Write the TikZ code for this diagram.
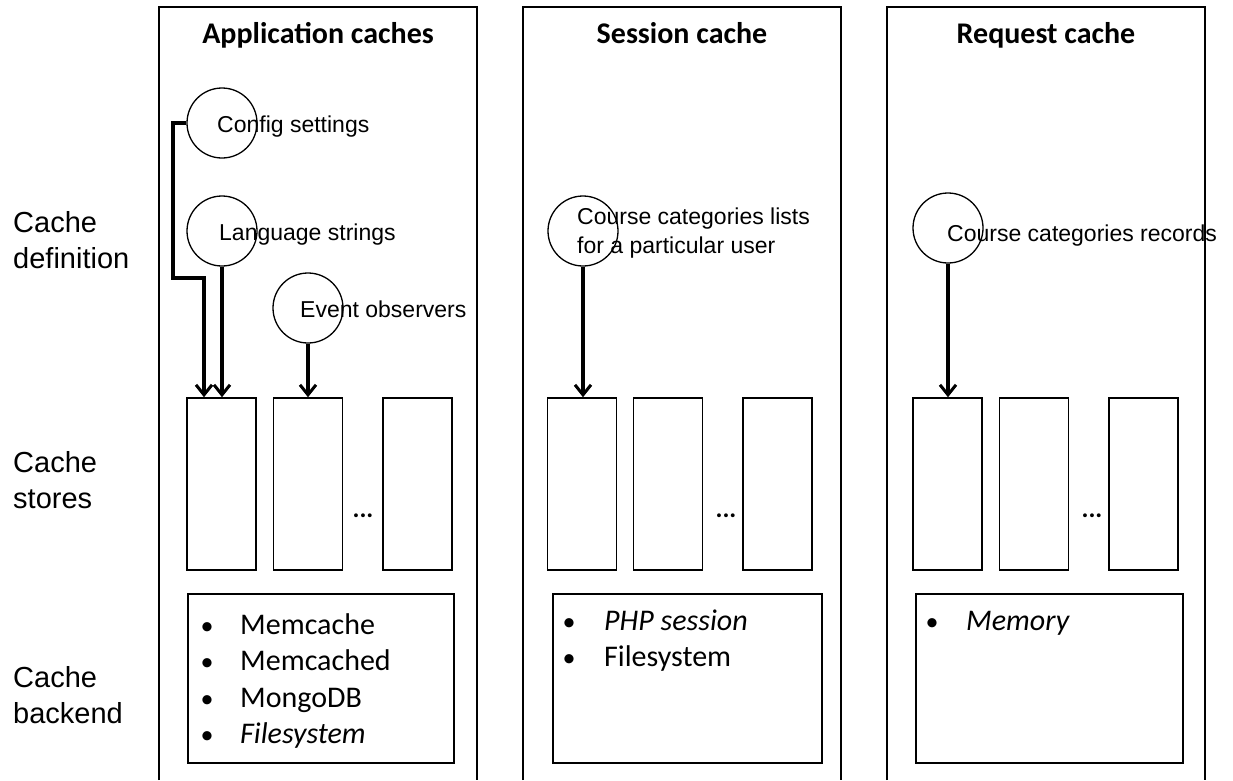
\documentclass[tikz,border=0pt]{standalone}
\usepackage{fontspec}
\setmainfont{Liberation Sans}
\newfontfamily\calfont{Carlito}
\usetikzlibrary{arrows.meta}
\begin{document}
\begin{tikzpicture}[x=1pt,y=-1pt,
  frame/.style={draw, line width=1.4pt},
  store/.style={draw, line width=1.6pt, minimum width=69pt, minimum height=172pt, inner sep=0pt},
  defc/.style={draw, circle, line width=1.3pt, minimum size=70pt, inner sep=0pt},
  lbl/.style={anchor=base west, inner sep=0pt, font=\fontsize{23}{28}\selectfont},
  side/.style={anchor=base west, inner sep=0pt, font=\fontsize{29}{35}\selectfont},
  title/.style={anchor=base, inner sep=0pt, font=\calfont\bfseries\fontsize{30}{36}\selectfont},
  item/.style={anchor=base west, inner sep=0pt, font=\calfont\fontsize{30}{36}\selectfont},
  bul/.style={anchor=base, inner sep=0pt, font=\calfont\fontsize{26}{32}\selectfont},
  dots/.style={anchor=base, inner sep=0pt, font=\calfont\bfseries\fontsize{26}{26}\selectfont},
  back/.style={draw, line width=1.5pt, minimum height=169pt, inner sep=0pt},
  arr/.style={line width=3.2pt, -{Straight Barb[length=10pt,width=16pt,line width=3pt]}}]
\useasboundingbox (0,0) rectangle (1233,780);
\fill[white] (0,0) rectangle (1233,780);

% column frames (cut off at the bottom)
\draw[frame] (159,780) -- (159,7) -- (477,7) -- (477,780);
\draw[frame] (523,780) -- (523,7) -- (841,7) -- (841,780);
\draw[frame] (887,780) -- (887,7) -- (1205,7) -- (1205,780);

% titles
\node[title] (t1) at (318,43) {Application caches};
\node[title] (t2) at (682,43) {Session cache};
\node[title] (t3) at (1046,43) {Request cache};

% side labels
\node[side] (l1a) at (13,232) {Cache};
\node[side] (l1b) at (13,268) {definition};
\node[side] (l2a) at (13,472) {Cache};
\node[side] (l2b) at (13,508) {stores};
\node[side] (l3a) at (13,687) {Cache};
\node[side] (l3b) at (13,723) {backend};

% cache definitions
\node[defc] (cfg) at (222,123) {};
\node[lbl] (cfgt) at (217,132) {Config settings};
\node[defc] (lang) at (222,231) {};
\node[lbl] (langt) at (219,240) {Language strings};
\node[defc] (ev) at (308,308) {};
\node[lbl] (evt) at (300,317) {Event observers};
\node[defc] (ccl) at (583,231) {};
\node[lbl] (cclt1) at (577,224) {Course categories lists};
\node[lbl] (cclt2) at (577,253) {for a particular user};
\node[defc] (ccr) at (948,228) {};
\node[lbl] (ccrt) at (947,241) {Course categories records};

% cache stores
\node[store] (s11) at (221.5,484) {};
\node[store] (s12) at (308,484) {};
\node[store] (s13) at (417.5,484) {};
\node[dots] (d1) at (363,517) {...};
\node[store] (s21) at (582,484) {};
\node[store] (s22) at (668,484) {};
\node[store] (s23) at (777.5,484) {};
\node[dots] (d2) at (726,517) {...};
\node[store] (s31) at (947.5,484) {};
\node[store] (s32) at (1034,484) {};
\node[store] (s33) at (1143.5,484) {};
\node[dots] (d3) at (1092,517) {...};

% connectors
\coordinate (k1) at (173,278);
\coordinate (k2) at (204,278);
\draw[arr] (cfg.west) -| (k1) -- (k2) -- (k2 |- s11.north);
\draw[arr] (lang.south) -- (lang.south |- s11.north);
\draw[arr] (ev.south) -- (ev.south |- s12.north);
\draw[arr] (ccl.south) -- (ccl.south |- s21.north);
\draw[arr] (ccr.south) -- (ccr.south |- s31.north);

% backends
\node[back, minimum width=266pt] (b1) at (321,678.5) {};
\node[back, minimum width=269pt] (b2) at (687.5,678.5) {};
\node[back, minimum width=267pt] (b3) at (1049.5,678.5) {};

\node[bul] (b1p1) at (207,634) {•};
\node[item] (b1i1) at (240,634) {Memcache};
\node[bul] (b1p2) at (207,670.5) {•};
\node[item] (b1i2) at (240,670.5) {Memcached};
\node[bul] (b1p3) at (207,707) {•};
\node[item] (b1i3) at (240,707) {MongoDB};
\node[bul] (b1p4) at (207,743.5) {•};
\node[item] (b1i4) at (240,743.5) {\itshape Filesystem};

\node[bul] (b2p1) at (569,630) {•};
\node[item] (b2i1) at (604,630) {\itshape PHP session};
\node[bul] (b2p2) at (569,666) {•};
\node[item] (b2i2) at (604,666) {Filesystem};

\node[bul] (b3p1) at (932,630) {•};
\node[item] (b3i1) at (966,630) {\itshape Memory};
\end{tikzpicture}
\end{document}
